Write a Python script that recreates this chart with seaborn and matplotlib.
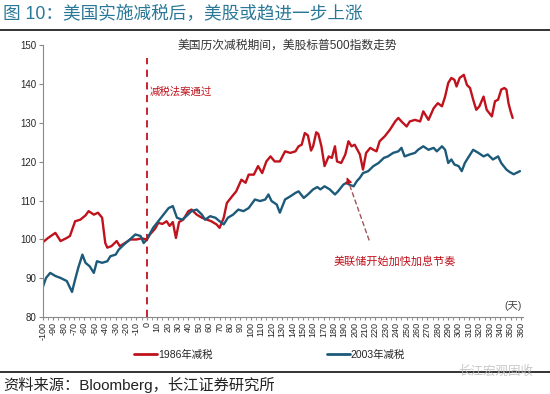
import matplotlib
matplotlib.use("Agg")
import matplotlib.pyplot as plt
import seaborn as sns
import pandas as pd
from matplotlib.ticker import MultipleLocator

# 1986 tax cut: S&P 500 rebased to 100 on the day the bill passed
days_1986 = [-100, -95, -88, -83, -77, -74, -69, -64, -59, -56, -51, -47, -43, -40, -38,
             -34, -29, -26, -21, -16, -10, -5, 0, 3, 8, 11, 15, 19, 22, 25, 28, 31, 35,
             40, 43, 48, 53, 58, 62, 67, 70, 74, 77, 82, 86, 91, 95, 98, 103, 107, 111,
             115, 119, 123, 128, 133, 138, 143, 146, 149, 152, 155, 158, 160, 163, 165,
             168, 171, 175, 178, 181, 183, 187, 191, 194, 197, 200, 205, 208, 211, 215,
             218, 221, 224, 229, 234, 239, 242, 245, 250, 253, 258, 263, 266, 271, 276,
             280, 284, 287, 290, 293, 296, 298, 301, 305, 308, 311, 314, 317, 320, 324,
             327, 332, 335, 338, 341, 344, 346, 348, 350, 352]
spx_1986 = [99.3, 100.4, 101.7, 99.6, 100.4, 100.9, 104.7, 105.1, 106.2, 107.3, 106.4,
            106.9, 105.6, 99.1, 97.9, 98.3, 99.6, 98.3, 99.1, 100.0, 100.0, 100.3, 100.0,
            101.3, 102.8, 104.3, 104.0, 104.7, 103.5, 104.5, 100.4, 104.5, 105.1, 107.3,
            107.7, 106.4, 105.6, 105.1, 104.7, 103.9, 103.0, 105.6, 109.4, 111.1, 112.4,
            115.4, 114.6, 116.7, 116.7, 118.9, 117.1, 120.1, 121.4, 120.1, 120.1, 122.7,
            122.3, 122.7, 124.0, 124.4, 127.4, 126.8, 122.9, 124.0, 127.6, 127.2, 124.0,
            118.9, 121.4, 121.0, 124.0, 120.1, 119.7, 121.9, 125.3, 124.0, 124.4, 121.9,
            118.0, 122.3, 123.6, 123.1, 122.7, 125.3, 126.6, 128.3, 130.4, 131.3, 130.4,
            129.1, 130.4, 130.8, 130.4, 133.0, 130.8, 133.8, 135.1, 134.3, 136.8, 140.3,
            141.6, 141.1, 139.4, 141.6, 142.4, 139.8, 139.0, 136.0, 133.4, 134.3, 136.8,
            133.4, 131.7, 135.6, 136.0, 138.6, 139.0, 138.6, 135.1, 133.0, 131.3]

# 2003 tax cut
days_2003 = [-100, -97, -93, -88, -83, -80, -77, -72, -69, -66, -62, -59, -55, -51, -48,
             -43, -38, -35, -30, -27, -22, -18, -11, -6, -3, 0, 6, 11, 16, 21, 25, 29, 34,
             38, 43, 48, 53, 56, 61, 66, 70, 74, 78, 83, 88, 93, 98, 104, 109, 114, 117,
             120, 125, 128, 133, 138, 143, 146, 151, 155, 160, 164, 167, 171, 176, 181,
             184, 189, 192, 195, 199, 202, 205, 208, 213, 218, 223, 228, 232, 237, 242,
             245, 248, 253, 258, 261, 266, 271, 276, 279, 284, 287, 290, 293, 296, 300,
             303, 306, 309, 314, 319, 324, 328, 333, 338, 341, 346, 349, 353, 356, 359]
spx_2003 = [87.8, 90.1, 91.4, 90.6, 90.1, 89.7, 89.3, 86.5, 89.7, 92.7, 96.1, 94.0, 93.1,
            91.4, 94.4, 94.0, 94.4, 95.7, 96.1, 97.4, 98.7, 99.6, 101.3, 100.9, 99.1,
            100.0, 103.0, 104.7, 106.4, 108.1, 108.6, 105.6, 105.1, 106.0, 107.3, 107.7,
            106.4, 105.1, 106.0, 105.6, 104.7, 103.9, 105.6, 106.4, 107.7, 107.3, 108.1,
            110.3, 109.9, 110.3, 111.6, 109.9, 109.0, 106.9, 110.3, 111.1, 112.0, 112.4,
            110.7, 111.6, 112.9, 113.5, 112.9, 113.7, 112.9, 111.6, 112.4, 114.1, 114.6,
            114.1, 113.7, 115.0, 115.9, 117.1, 117.6, 118.9, 119.7, 121.0, 121.4, 122.3,
            122.7, 123.6, 121.4, 121.9, 122.3, 123.1, 124.0, 123.1, 123.6, 122.7, 124.0,
            123.1, 119.7, 120.6, 119.3, 118.9, 117.6, 119.7, 121.0, 123.1, 122.3, 121.4,
            121.9, 120.6, 121.4, 119.7, 118.0, 117.4, 116.8, 117.2, 117.6]

series_labels = ["1986年减税", "2003年减税"]
x_ticks = list(range(-100, 361, 10))
y_ticks = list(range(80, 151, 10))

red = "#c0121c"
blue = "#1d5a7a"

df = pd.concat([
    pd.DataFrame({"day": days_1986, "value": spx_1986, "series": series_labels[0]}),
    pd.DataFrame({"day": days_2003, "value": spx_2003, "series": series_labels[1]}),
])

sns.set_style("white")
plt.rcParams["font.family"] = ["Liberation Sans", "Noto Sans CJK SC", "DejaVu Sans"]

fig = plt.figure(figsize=(5.5, 3.94), dpi=100)
ax = fig.add_axes([0.078, 0.195, 0.873, 0.69])

sns.lineplot(data=df, x="day", y="value", hue="series", palette=[red, blue],
             linewidth=1.7, ax=ax, legend=False)

ax.set_xlim(-100, 362)
ax.set_ylim(80, 150)
ax.set_xticks(x_ticks)
ax.set_xticklabels([str(t) for t in x_ticks], rotation=90, fontsize=6.5)
ax.xaxis.set_minor_locator(MultipleLocator(5))
ax.set_yticks(y_ticks)
ax.tick_params(axis="y", labelsize=7, length=3, color="#888888", direction="out", left=True, pad=2)
ax.tick_params(axis="x", which="both", length=2.5, color="#888888", direction="out", bottom=True, pad=1)
ax.set_xlabel("")
ax.set_ylabel("")
for side in ["top", "right"]:
    ax.spines[side].set_visible(False)
for side in ["left", "bottom"]:
    ax.spines[side].set_color("#888888")
    ax.spines[side].set_linewidth(0.8)

# tax bill passed
ax.vlines(0, 80, 146.8, colors=red, linestyles=(0, (4, 3)), linewidth=1.3)
ax.text(2.5, 138, "减税法案通过", color=red, fontsize=7.5, va="center")

# Fed hike annotation
head = (191.6, 116.7)
tail = (214.7, 99.2)
ax.annotate("", xy=head, xytext=tail,
            arrowprops=dict(arrowstyle="-", color="#a0525a", lw=1, linestyle=(0, (3, 2.5))))
near = (head[0] + (tail[0] - head[0]) * 0.12, head[1] + (tail[1] - head[1]) * 0.12)
ax.annotate("", xy=head, xytext=near,
            arrowprops=dict(arrowstyle="-|>", color=red, lw=0.8, mutation_scale=9))
ax.text(238.7, 94.4, "美联储开始加快加息节奏", color=red, fontsize=8, ha="center", va="center")

ax.text(361, 82.8, "(天)", fontsize=7.5, color="#444444", ha="right", va="center")

fig.text(0.522, 0.885, "美国历次减税期间，美股标普500指数走势", fontsize=8.5,
         color="#333333", ha="center", va="center")

# titles and rules
fig.text(0.006, 0.963, "图 10：美国实施减税后，美股或趋进一步上涨", fontsize=12.7,
         color="#2a7898", ha="left", va="center")
fig.add_artist(plt.Line2D([0, 1], [0.924, 0.924], color="#111111", lw=1.2))
fig.add_artist(plt.Line2D([0, 1], [0.056, 0.056], color="#111111", lw=1.2))
fig.text(0.006, 0.022, "资料来源：Bloomberg，长江证券研究所", fontsize=11,
         color="#222222", ha="left", va="center")
fig.text(0.97, 0.056, "长江宏观固收", fontsize=9, color="#bbbbbb", ha="right",
         va="center", alpha=0.8)

handles = [plt.Line2D([], [], color=red, lw=2), plt.Line2D([], [], color=blue, lw=2)]
fig.legend(handles, series_labels, loc="center", bbox_to_anchor=(0.49, 0.099), ncol=2,
           frameon=False, fontsize=7.5, handlelength=2.2, handletextpad=0.1,
           columnspacing=11)

fig.savefig("out.png", dpi=100)
